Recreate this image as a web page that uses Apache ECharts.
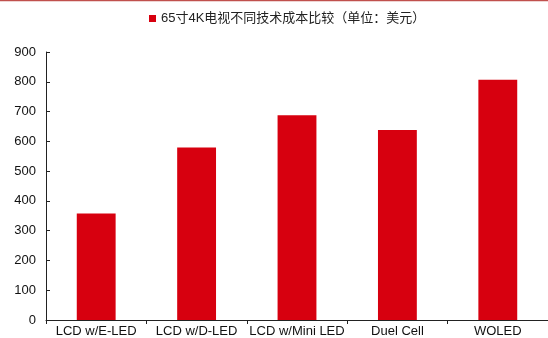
<!DOCTYPE html>
<html>
<head>
<meta charset="utf-8">
<style>
  html, body { margin: 0; padding: 0; background: #fff; }
  #chart { width: 548px; height: 338px; }
</style>
<script src="https://cdn.jsdelivr.net/npm/echarts@6/dist/echarts.min.js"></script>
</head>
<body>
<div id="chart"></div>
<script>
// 65-inch 4K TV cost by display technology (USD)
var categories = ['LCD w/E-LED', 'LCD w/D-LED', 'LCD w/Mini LED', 'Duel Cell', 'WOLED'];
var costs = [358, 579, 688, 638, 807];
var seriesName = '65寸4K电视不同技术成本比较（单位：美元）';
var yTicks = { min: 0, max: 900, interval: 100 };

var chart = echarts.init(document.getElementById('chart'), null, { renderer: 'canvas' });
var font = '"Liberation Sans", Arial, "Noto Sans CJK SC", sans-serif';

chart.setOption({
  animation: false,
  textStyle: { fontFamily: font },
  graphic: [{
    type: 'rect',
    shape: { x: 0, y: 0, width: 548, height: 1.2 },
    style: { fill: '#c0504d' }
  }],
  legend: {
    top: 7,
    left: 144,
    icon: 'rect',
    itemWidth: 7,
    itemHeight: 7,
    itemGap: 6,
    textStyle: { fontSize: 13, color: '#222', fontFamily: font },
    data: [seriesName]
  },
  grid: { left: 46, top: 52, width: 504, height: 269, containLabel: false },
  xAxis: {
    type: 'category',
    data: categories,
    boundaryGap: true,
    axisLine: { lineStyle: { color: '#222', width: 1 } },
    axisTick: { show: true, alignWithLabel: false, length: 4, lineStyle: { color: '#222' } },
    axisLabel: { color: '#111', fontSize: 13, margin: 5, interval: 0, fontFamily: font }
  },
  yAxis: {
    type: 'value',
    min: yTicks.min,
    max: yTicks.max,
    interval: yTicks.interval,
    splitLine: { show: false },
    axisLine: { show: true, lineStyle: { color: '#222', width: 1 } },
    axisTick: { show: true, inside: true, length: 4, lineStyle: { color: '#222' } },
    axisLabel: { color: '#111', fontSize: 13, margin: 10, fontFamily: font }
  },
  series: [{
    name: seriesName,
    type: 'bar',
    data: costs,
    barWidth: '38.7%',
    itemStyle: { color: '#d7000f' }
  }]
});
</script>
</body>
</html>
